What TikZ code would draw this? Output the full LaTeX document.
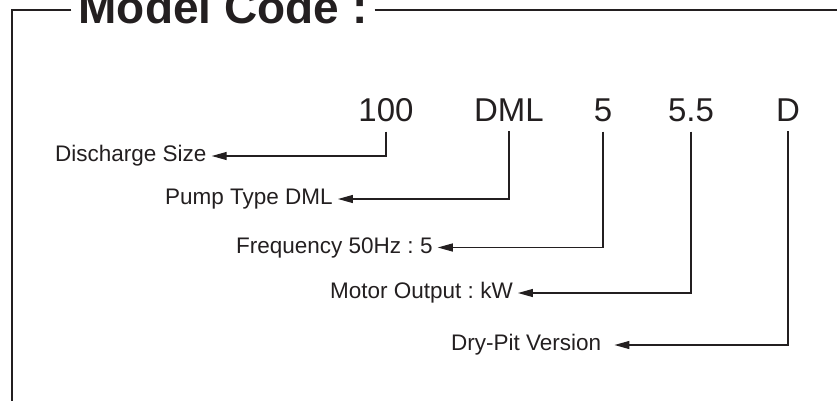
\documentclass[tikz,border=0pt]{standalone}
\usepackage{fontspec}
\setmainfont{Liberation Sans}
\usetikzlibrary{arrows.meta}
\definecolor{ink}{HTML}{231F20}
\frenchspacing

\begin{document}
\begin{tikzpicture}[x=1pt, y=-1pt]
            \tikzstyle{frame line} = [line width=1.8pt, draw=ink]
            \tikzstyle{code part} = [anchor=base, inner ysep=10pt, inner xsep=0pt, text=ink, font=\fontsize{33}{33}\selectfont]
            \tikzstyle{code label} = [anchor=west, inner xsep=5pt, text=ink, font=\fontsize{22.5}{22.5}\selectfont]
            \tikzstyle{code lead} = [line width=1.2pt, draw=ink, -{Triangle[length=15pt, width=8pt]}]

            \useasboundingbox (0, 0) rectangle (837, 400);
            \clip (0, 0) rectangle (837, 400);

            % frame with title
            \node[anchor=base, inner xsep=7pt, text=ink, font=\bfseries\fontsize{46}{46}\selectfont] (title) at (223, 23) {Model Code :};
            \draw[frame line] (title.west |- 0, 10) -- (12, 10) -- (12, 420);
            \draw[frame line] (title.east |- 0, 10) -- (845, 10);

            % parts of the code
            \node[code part] (size code) at (386, 121) {100};
            \node[code part] (type code) at (509, 121) {DML};
            \node[code part] (freq code) at (603, 121) {5};
            \node[code part] (power code) at (691, 121) {5.5};
            \node[code part] (version code) at (788, 121) {D};

            % meanings
            \node[code label] (size) at (50, 156) {Discharge Size};
            \node[code label] (type) at (160, 199) {Pump Type DML};
            \node[code label] (freq) at (231, 247.5) {Frequency 50Hz : 5};
            \node[code label] (power) at (325, 293) {Motor Output : kW};
            \node[code label] (version) at (446, 345) {Dry-Pit Version};

            \draw[code lead] (size code.south) |- (size.east);
            \draw[code lead] (type code.south) |- (type.east);
            \draw[code lead] (freq code.south) |- (freq.east);
            \draw[code lead] (power code.south) |- (power.east);
            \draw[code lead] (version code.south) |- ([xshift=8pt]version.east);

        \end{tikzpicture}
\end{document}
